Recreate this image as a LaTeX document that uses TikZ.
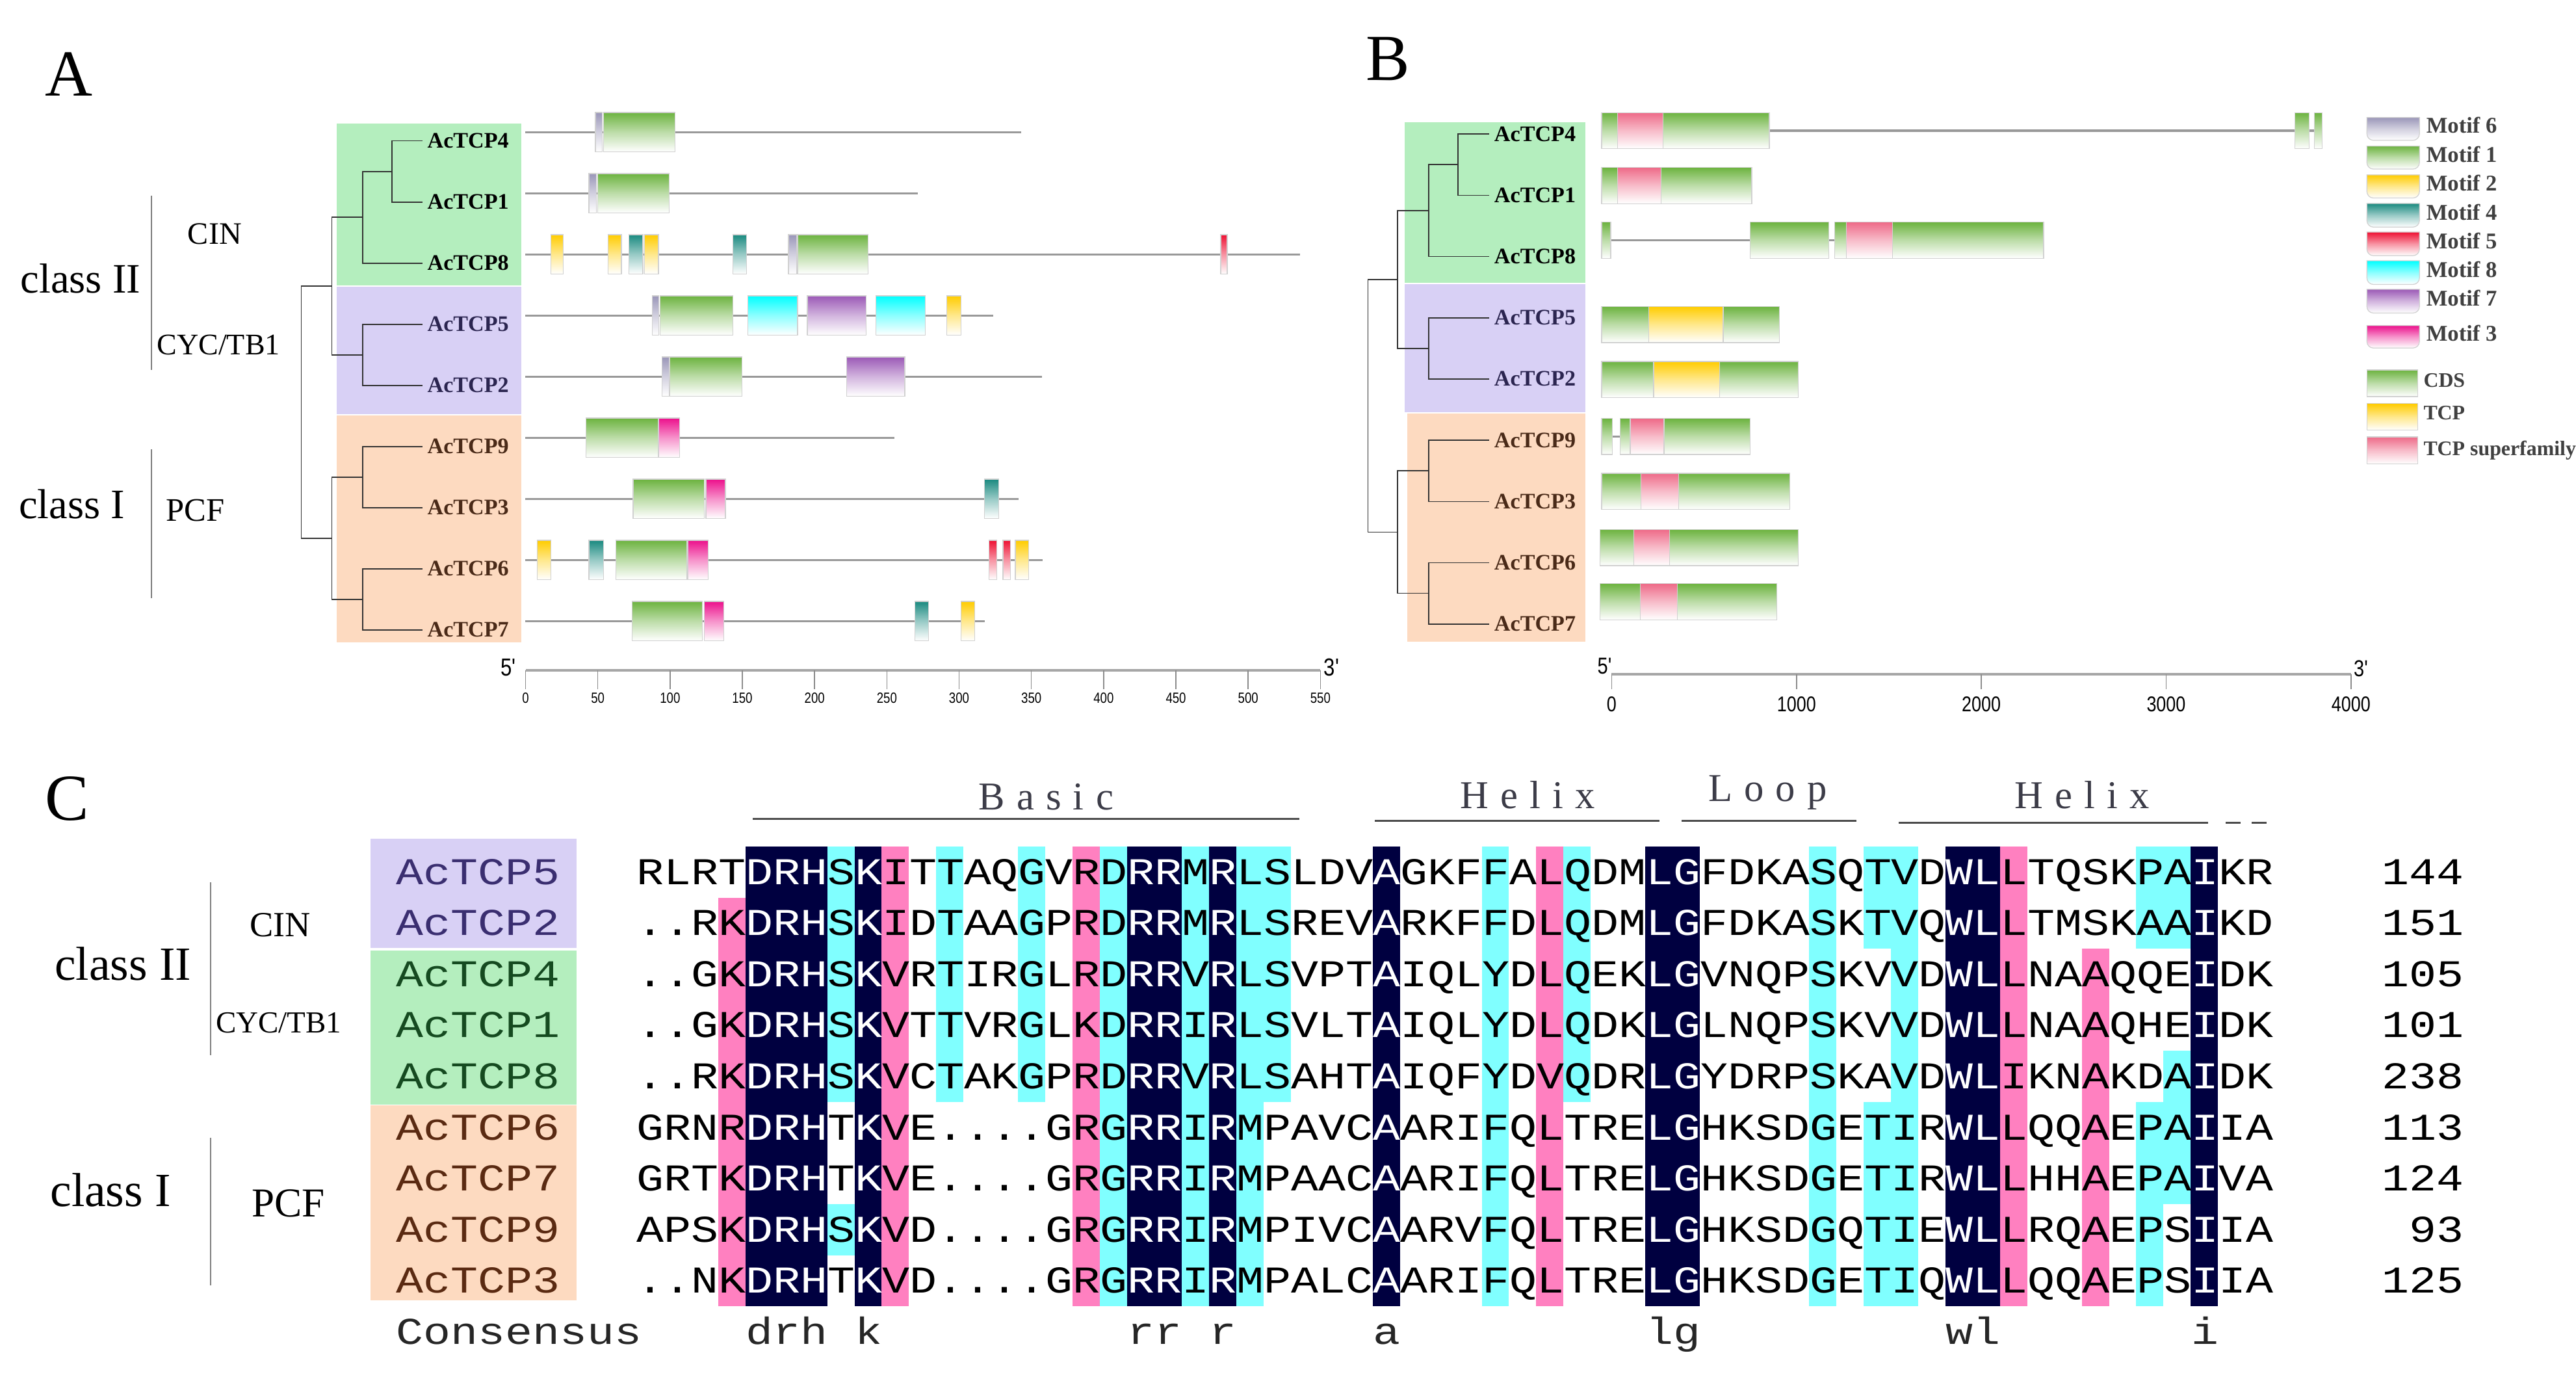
\documentclass[tikz,border=0pt]{standalone}
\usepackage{fontspec}
\setmainfont{Liberation Serif}
\newfontfamily\alnfont[FakeStretch=1.2]{Liberation Mono}
\newfontfamily\axfont[FakeStretch=0.82]{Liberation Sans}
\newcommand{\fsz}[1]{\fontsize{#1}{#1}\selectfont}
\newcommand{\W}[1]{\textcolor{white}{#1}}
\definecolor{bgG}{HTML}{B4EEBE}
\definecolor{bgP}{HTML}{D8D0F5}
\definecolor{bgO}{HTML}{FDDAC0}
\definecolor{mSix}{HTML}{9A96B8}
\definecolor{mOne}{HTML}{6CB33F}
\definecolor{mTwo}{HTML}{FFCC00}
\definecolor{mFour}{HTML}{1A8A80}
\definecolor{mFive}{HTML}{EE1133}
\definecolor{mEight}{HTML}{00FFFF}
\definecolor{mSeven}{HTML}{9B59B6}
\definecolor{mThree}{HTML}{EC108C}
\definecolor{tsf}{HTML}{EE6A88}
\definecolor{labP}{HTML}{2B2550}
\definecolor{labO}{HTML}{4A2A18}
\definecolor{cP}{HTML}{3A2E70}
\definecolor{cG}{HTML}{154A20}
\definecolor{cO}{HTML}{5A2A12}
\definecolor{alnD}{HTML}{000040}
\definecolor{alnC}{HTML}{80FFFF}
\definecolor{alnP}{HTML}{FF80C0}
\definecolor{hdr}{HTML}{3C3C48}
\newcommand{\gb}[5]{\draw[boxline,top color=#1,bottom color=white,middle color=#1!45] (#2,{#4-#5}) rectangle (#3,{#4+#5});}
\newcommand{\lsw}[3]{\draw[boxline,top color=#1,bottom color=white,middle color=#1!45] (1440.7,#2) -- (1472.7,#2) -- (1472.7,{#3-4}) arc[start angle=0,end angle=90,radius=4] -- (1444.7,#3) arc[start angle=90,end angle=180,radius=4] -- cycle;}
\newcommand{\abg}[5]{\fill[#1] ({387.3+16.6*#2},{515.1+31.1*#4}) rectangle ({387.3+16.6*(#3+1)},{515.1+31.1*(#5+1)});}
\tikzset{
  boxline/.style={draw=black!18,line width=0.5pt},
  geneln/.style={draw=black!40,line width=1.3pt},
  treeln/.style={draw=black!80,line width=0.7pt},
  tlab/.style={anchor=west,inner xsep=3pt,inner ysep=0pt,font=\bfseries\fsz{13.5}},
  clsline/.style={draw=black!50,line width=0.8pt},
  axln/.style={draw=black!35,line width=1.4pt},
  tickln/.style={draw=black!45,line width=0.6pt},
  seq/.style={anchor=west,inner sep=0pt,text height=15pt,text depth=0pt,font=\alnfont\fsz{23.06}},
  hdrt/.style={inner sep=0pt,text=hdr,font=\fsz{24}\addfontfeature{LetterSpace=30}},
  hdrln/.style={draw=black!70,line width=1.2pt},
  legt/.style={anchor=west,inner sep=0pt,text=black!75,font=\bfseries\fsz{13.7}},
}
\begin{document}
\begin{tikzpicture}[x=1pt,y=-1pt]
\useasboundingbox (0,0) rectangle (1568,839);
% ---------- panel labels
\node (lblA) at (42,45) {\fsz{40}A};
\node (lblB) at (845,36) {\fsz{40}B};
\node (lblC) at (41,486) {\fsz{40}C};
% ---------- panel A
\fill[bgG] (205,75) rectangle (317.5,173.5);
\fill[bgP] (205,174.5) rectangle (317.5,252);
\fill[bgO] (205,253) rectangle (317.5,391);
\node (aclsII) at (49,169.5) {\fsz{25.5}class II};
\node (aclsI) at (43.7,307) {\fsz{25.5}class I};
\draw[clsline] (92,119) -- (92,225);
\draw[clsline] (92,273.4) -- (92,364);
\node (aCIN) at (130.7,142.5) {\fsz{19}CIN};
\node (aCYC) at (133,209.8) {\fsz{18.2}CYC/TB1};
\node (aPCF) at (118.8,310.7) {\fsz{20}PCF};
% labels
\node[tlab] (a4) at (257,85.7) {AcTCP4};
\node[tlab] (a1) at (257,122.9) {AcTCP1};
\node[tlab] (a8) at (257,160.1) {AcTCP8};
\node[tlab,text=labP] (a5) at (257,197.3) {AcTCP5};
\node[tlab,text=labP] (a2) at (257,234.5) {AcTCP2};
\node[tlab,text=labO] (a9) at (257,271.7) {AcTCP9};
\node[tlab,text=labO] (a3) at (257,308.9) {AcTCP3};
\node[tlab,text=labO] (a6) at (257,346.1) {AcTCP6};
\node[tlab,text=labO] (a7) at (257,383.3) {AcTCP7};
\coordinate (pA41) at (238.6,104.3);
\coordinate (pA418) at (220.8,132.2);
\coordinate (pA52) at (220.8,215.9);
\coordinate (pAII) at (202,174);
\coordinate (pA93) at (220.8,290.3);
\coordinate (pA67) at (220.8,364.7);
\coordinate (pAI) at (202,327.5);
\coordinate (pAroot) at (183.4,250.8);
\draw[treeln] (pA41) |- (a4.west) (pA41) |- (a1.west);
\draw[treeln] (pA418) |- (pA41) (pA418) |- (a8.west);
\draw[treeln] (pA52) |- (a5.west) (pA52) |- (a2.west);
\draw[treeln] (pAII) |- (pA418) (pAII) |- (pA52);
\draw[treeln] (pA93) |- (a9.west) (pA93) |- (a3.west);
\draw[treeln] (pA67) |- (a6.west) (pA67) |- (a7.west);
\draw[treeln] (pAI) |- (pA93) (pAI) |- (pA67);
\draw[treeln] (pAroot) |- (pAII) (pAroot) |- (pAI);
% gene structures A
\draw[geneln] (319.8,80.4) -- (621.7,80.4);
\gb{mSix}{362.4}{366.7}{80.4}{12}
\gb{mOne}{367.3}{411.0}{80.4}{12}
\draw[geneln] (319.8,117.6) -- (558.6,117.6);
\gb{mSix}{358.5}{363.1}{117.6}{12}
\gb{mOne}{363.7}{407.4}{117.6}{12}
\draw[geneln] (319.8,154.8) -- (791.5,154.8);
\gb{mTwo}{335.2}{342.7}{154.8}{12}
\gb{mTwo}{370}{378.2}{154.8}{12}
\gb{mFour}{382.8}{391.3}{154.8}{12}
\gb{mTwo}{392.3}{400.8}{154.8}{12}
\gb{mFour}{446.1}{454.3}{154.8}{12}
\gb{mSix}{479.9}{484.8}{154.8}{12}
\gb{mOne}{485.5}{528.4}{154.8}{12}
\gb{mFive}{743}{747}{154.8}{12}
\draw[geneln] (319.8,192) -- (604.6,192);
\gb{mSix}{396.9}{401.1}{192}{12}
\gb{mOne}{401.8}{446.1}{192}{12}
\gb{mEight}{455.3}{485.5}{192}{12}
\gb{mSeven}{491.4}{527.1}{192}{12}
\gb{mEight}{533}{563.2}{192}{12}
\gb{mTwo}{576.3}{584.9}{192}{12}
\draw[geneln] (319.8,229.2) -- (634.1,229.2);
\gb{mSix}{403.1}{407.4}{229.2}{12}
\gb{mOne}{407.7}{451.7}{229.2}{12}
\gb{mSeven}{515.3}{550.8}{229.2}{12}
\draw[geneln] (319.8,266.4) -- (544.5,266.4);
\gb{mOne}{356.8}{400.5}{266.4}{12}
\gb{mThree}{401.1}{413.6}{266.4}{12}
\draw[geneln] (319.8,303.6) -- (620,303.6);
\gb{mOne}{385.4}{428.7}{303.6}{12}
\gb{mThree}{429.7}{441.5}{303.6}{12}
\gb{mFour}{599.3}{607.8}{303.6}{12}
\draw[geneln] (319.8,340.8) -- (634.8,340.8);
\gb{mTwo}{327}{335.2}{340.8}{12}
\gb{mFour}{358.5}{367.3}{340.8}{12}
\gb{mOne}{374.9}{418.2}{340.8}{12}
\gb{mThree}{418.9}{431}{340.8}{12}
\gb{mFive}{601.9}{606.8}{340.8}{12}
\gb{mFive}{610.5}{615.1}{340.8}{12}
\gb{mTwo}{618}{626}{340.8}{12}
\draw[geneln] (319.8,378) -- (599.3,378);
\gb{mOne}{384.7}{427.4}{378}{12}
\gb{mThree}{428.7}{440.5}{378}{12}
\gb{mFour}{557}{565.2}{378}{12}
\gb{mTwo}{584.9}{593.4}{378}{12}
% axis A
\draw[axln] (319.9,407.9) -- (803.7,407.9);
\foreach \v in {0,50,...,550}{
  \draw[tickln] ({319.9+0.8797*\v},407.9) -- ({319.9+0.8797*\v},419.2);
  \node[inner sep=0pt,font=\axfont\fsz{9}] (ta\v) at ({319.9+0.8797*\v},424.8) {\v};
}
\node[font=\axfont\fsz{15},inner sep=0pt] (a5p) at (309.3,406) {5'};
\node[font=\axfont\fsz{15},inner sep=0pt] (a3p) at (810.5,406) {3'};
% ---------- panel B
\fill[bgG] (855,74.5) rectangle (965,172.3);
\fill[bgP] (855,173) rectangle (965,250.9);
\fill[bgO] (856.5,251.5) rectangle (965,390.5);
\node[tlab] (b4) at (906.4,81.6) {AcTCP4};
\node[tlab] (b1) at (906.4,118.9) {AcTCP1};
\node[tlab] (b8) at (906.4,156.1) {AcTCP8};
\node[tlab,text=labP] (b5) at (906.4,193.4) {AcTCP5};
\node[tlab,text=labP] (b2) at (906.4,230.6) {AcTCP2};
\node[tlab,text=labO] (b9) at (906.4,267.9) {AcTCP9};
\node[tlab,text=labO] (b3) at (906.4,305.2) {AcTCP3};
\node[tlab,text=labO] (b6) at (906.4,342.4) {AcTCP6};
\node[tlab,text=labO] (b7) at (906.4,379.7) {AcTCP7};
\coordinate (pB41) at (887.5,100.2);
\coordinate (pB418) at (869.5,128.2);
\coordinate (pB52) at (869.5,212);
\coordinate (pBII) at (850.7,170.1);
\coordinate (pB93) at (869.5,286.5);
\coordinate (pB67) at (869.5,361);
\coordinate (pBI) at (850.7,323.8);
\coordinate (pBroot) at (832.7,247);
\draw[treeln] (pB41) |- (b4.west) (pB41) |- (b1.west);
\draw[treeln] (pB418) |- (pB41) (pB418) |- (b8.west);
\draw[treeln] (pB52) |- (b5.west) (pB52) |- (b2.west);
\draw[treeln] (pBII) |- (pB418) (pBII) |- (pB52);
\draw[treeln] (pB93) |- (b9.west) (pB93) |- (b3.west);
\draw[treeln] (pB67) |- (b6.west) (pB67) |- (b7.west);
\draw[treeln] (pBI) |- (pB93) (pBI) |- (pB67);
\draw[treeln] (pBroot) |- (pBII) (pBroot) |- (pBI);
% gene structures B
\draw[geneln] (974.9,79.5) -- (1413.4,79.5);
\gb{mOne}{974.9}{1077}{79.5}{11}
\gb{tsf}{984.7}{1012.3}{79.5}{11}
\gb{mOne}{1396.9}{1405.7}{79.5}{11}
\gb{mOne}{1408.8}{1413.4}{79.5}{11}
\gb{mOne}{974.9}{1066.3}{112.9}{11}
\gb{tsf}{984.7}{1011.2}{112.9}{11}
\draw[geneln] (974.9,146.2) -- (1243.9,146.2);
\gb{mOne}{974.9}{980.4}{146.2}{11}
\gb{mOne}{1065.4}{1113.3}{146.2}{11}
\gb{mOne}{1116.8}{1243.9}{146.2}{11}
\gb{tsf}{1124}{1151.9}{146.2}{11}
\gb{mOne}{974.9}{1083.1}{197.5}{11}
\gb{mTwo}{1003.6}{1048.9}{197.5}{11}
\gb{mOne}{974.9}{1094.7}{231}{11}
\gb{mTwo}{1006.5}{1046.6}{231}{11}
\draw[geneln] (974.9,265.6) -- (1065.4,265.6);
\gb{mOne}{974.9}{981.5}{265.6}{11}
\gb{mOne}{986.2}{1065.4}{265.6}{11}
\gb{tsf}{992.3}{1012.9}{265.6}{11}
\gb{mOne}{974.9}{1089.5}{299}{11}
\gb{tsf}{998.7}{1021.9}{299}{11}
\gb{mOne}{974}{1094.7}{333.2}{11}
\gb{tsf}{994.6}{1016.1}{333.2}{11}
\gb{mOne}{974}{1081.4}{366.2}{11}
\gb{tsf}{998.4}{1021}{366.2}{11}
% axis B
\draw[axln] (981,410.2) -- (1431,410.2);
\foreach \v in {0,1000,...,4000}{
  \draw[tickln] ({981+0.1125*\v},410.2) -- ({981+0.1125*\v},419.5);
  \node[inner sep=0pt,font=\axfont\fsz{13}] (tb\v) at ({981+0.1125*\v},428.7) {\v};
}
\node[font=\axfont\fsz{14},inner sep=0pt] (b5p) at (976.7,405.5) {5'};
\node[font=\axfont\fsz{14},inner sep=0pt] (b3p) at (1437,407) {3'};
% legend
\lsw{mSix}{71.5}{85.4}   \node[legt] (lm6) at (1476.7,76) {Motif 6};
\lsw{mOne}{88.9}{102.9}  \node[legt] (lm1) at (1476.7,93.9) {Motif 1};
\lsw{mTwo}{106.4}{120.5} \node[legt] (lm2) at (1476.7,111.4) {Motif 2};
\lsw{mFour}{123.8}{138.2} \node[legt] (lm4) at (1476.7,129.1) {Motif 4};
\lsw{mFive}{141.2}{155.6} \node[legt] (lm5) at (1476.7,146.5) {Motif 5};
\lsw{mEight}{158.7}{173.1} \node[legt] (lm8) at (1476.7,164) {Motif 8};
\lsw{mSeven}{176.1}{190.5} \node[legt] (lm7) at (1476.7,181.4) {Motif 7};
\lsw{mThree}{198.1}{211.8} \node[legt] (lm3) at (1476.7,202.6) {Motif 3};
\draw[boxline,top color=mOne,bottom color=white,middle color=mOne!45] (1440.7,225.1) rectangle (1471.5,241.3);
\node[legt,font=\bfseries\fsz{12.6}] (lcds) at (1475,231.4) {CDS};
\draw[boxline,top color=mTwo,bottom color=white,middle color=mTwo!45] (1440.7,245.6) rectangle (1471.5,261.8);
\node[legt,font=\bfseries\fsz{12.6}] (ltcp) at (1475,251.1) {TCP};
\draw[boxline,top color=tsf,bottom color=white,middle color=tsf!45] (1440.7,265.9) rectangle (1471.5,282.3);
\node[legt,font=\bfseries\fsz{12.6}] (ltsf) at (1475,273.9) {TCP superfamily};
% ---------- panel C
\fill[bgP] (225.7,510.4) rectangle (351,576.8);
\fill[bgG] (225.7,578.4) rectangle (351,672.1);
\fill[bgO] (225.7,672.6) rectangle (351,791.5);
\node (cclsII) at (74.8,586.7) {\fsz{29}class II};
\node (cclsI) at (67.3,724.3) {\fsz{29}class I};
\draw[clsline] (128,537) -- (128,642);
\draw[clsline] (128,692.3) -- (128,782.4);
\node (cCIN) at (170.6,563) {\fsz{21.5}CIN};
\node (cCYC) at (169.6,622.3) {\fsz{18.6}CYC/TB1};
\node (cPCF) at (175.5,732.2) {\fsz{25}PCF};
% header
\node[hdrt] (hBasic) at (636.7,484.8) {Basic};
\node[hdrt] (hHelixA) at (930,483.6) {Helix};
\node[hdrt] (hLoop) at (1076,482.4) {Loop};
\node[hdrt] (hHelixB) at (1267.3,483.6) {Helix};
\draw[hdrln] (458.3,498.3) -- (791.1,498.3);
\draw[hdrln] (837,499.7) -- (1010,499.7);
\draw[hdrln] (1023.5,499.7) -- (1130,499.7);
\draw[hdrln] (1155.6,500.6) -- (1344.2,500.6);
\draw[hdrln] (1354.9,500.6) -- (1363.8,500.6);
\draw[hdrln] (1370.6,500.6) -- (1379.7,500.6);
% alignment backgrounds
\foreach \cc/\ca/\cb/\ra/\rb in {alnD/4/6/0/8,alnD/8/8/0/8,alnD/18/19/0/8,alnD/21/21/0/8,alnD/27/27/0/8,alnD/37/38/0/8,alnD/48/49/0/8,alnD/57/57/0/8,
 alnP/3/3/1/8,alnP/9/9/0/8,alnP/16/16/0/8,alnP/33/33/0/8,alnP/50/50/0/8,alnP/53/53/2/8,
 alnC/7/7/0/4,alnC/7/7/7/7,alnC/11/11/0/4,alnC/14/14/0/4,alnC/17/17/0/8,alnC/20/20/0/8,alnC/22/22/0/8,alnC/23/23/0/4,alnC/31/31/0/8,alnC/34/34/0/4,alnC/43/43/0/8,alnC/45/45/0/1,alnC/45/45/5/8,alnC/46/46/0/8,alnC/55/55/0/1,alnC/55/55/5/8,alnC/56/56/0/1,alnC/56/56/4/6}{
  \abg{\cc}{\ca}{\cb}{\ra}{\rb}
}
% names
\node[seq,text=cP] (c5) at (241,530.65) {AcTCP5};
\node[seq,text=cP] (c2) at (241,561.75) {AcTCP2};
\node[seq,text=cG] (c4) at (241,592.85) {AcTCP4};
\node[seq,text=cG] (c1) at (241,623.95) {AcTCP1};
\node[seq,text=cG] (c8) at (241,655.05) {AcTCP8};
\node[seq,text=cO] (c6) at (241,686.15) {AcTCP6};
\node[seq,text=cO] (c7) at (241,717.25) {AcTCP7};
\node[seq,text=cO] (c9) at (241,748.35) {AcTCP9};
\node[seq,text=cO] (c3) at (241,779.45) {AcTCP3};
\node[seq,text=black!85] (ccons) at (241,810.55) {Consensus};
% sequences
\node[seq] (s5) at (387.3,530.65) {RLRT\W{DRH}S\W{K}ITTAQGVRD\W{RR}M\W{R}LSLDV\W{A}GKFFALQDM\W{LG}FDKASQTVD\W{WL}LTQSKPA\W{I}KR};
\node[seq] (s2) at (387.3,561.75) {..RK\W{DRH}S\W{K}IDTAAGPRD\W{RR}M\W{R}LSREV\W{A}RKFFDLQDM\W{LG}FDKASKTVQ\W{WL}LTMSKAA\W{I}KD};
\node[seq] (s4) at (387.3,592.85) {..GK\W{DRH}S\W{K}VRTIRGLRD\W{RR}V\W{R}LSVPT\W{A}IQLYDLQEK\W{LG}VNQPSKVVD\W{WL}LNAAQQE\W{I}DK};
\node[seq] (s1) at (387.3,623.95) {..GK\W{DRH}S\W{K}VTTVRGLKD\W{RR}I\W{R}LSVLT\W{A}IQLYDLQDK\W{LG}LNQPSKVVD\W{WL}LNAAQHE\W{I}DK};
\node[seq] (s8) at (387.3,655.05) {..RK\W{DRH}S\W{K}VCTAKGPRD\W{RR}V\W{R}LSAHT\W{A}IQFYDVQDR\W{LG}YDRPSKAVD\W{WL}IKNAKDA\W{I}DK};
\node[seq] (s6) at (387.3,686.15) {GRNR\W{DRH}T\W{K}VE....GRG\W{RR}I\W{R}MPAVC\W{A}ARIFQLTRE\W{LG}HKSDGETIR\W{WL}LQQAEPA\W{I}IA};
\node[seq] (s7) at (387.3,717.25) {GRTK\W{DRH}T\W{K}VE....GRG\W{RR}I\W{R}MPAAC\W{A}ARIFQLTRE\W{LG}HKSDGETIR\W{WL}LHHAEPA\W{I}VA};
\node[seq] (s9) at (387.3,748.35) {APSK\W{DRH}S\W{K}VD....GRG\W{RR}I\W{R}MPIVC\W{A}ARVFQLTRE\W{LG}HKSDGQTIE\W{WL}LRQAEPS\W{I}IA};
\node[seq] (s3) at (387.3,779.45) {..NK\W{DRH}T\W{K}VD....GRG\W{RR}I\W{R}MPALC\W{A}ARIFQLTRE\W{LG}HKSDGETIQ\W{WL}LQQAEPS\W{I}IA};
\node[seq,text=black!85] (scons) at (387.3,810.55) {\hphantom{XXXX}drh\hphantom{X}k\hphantom{XXXXXXXXX}rr\hphantom{X}r\hphantom{XXXXX}a\hphantom{XXXXXXXXX}lg\hphantom{XXXXXXXXX}wl\hphantom{XXXXXXX}i};
% lengths
\node[seq,anchor=east] (n5) at (1500,530.65) {144};
\node[seq,anchor=east] (n2) at (1500,561.75) {151};
\node[seq,anchor=east] (n4) at (1500,592.85) {105};
\node[seq,anchor=east] (n1) at (1500,623.95) {101};
\node[seq,anchor=east] (n8) at (1500,655.05) {238};
\node[seq,anchor=east] (n6) at (1500,686.15) {113};
\node[seq,anchor=east] (n7) at (1500,717.25) {124};
\node[seq,anchor=east] (n9) at (1500,748.35) {93};
\node[seq,anchor=east] (n3) at (1500,779.45) {125};
\end{tikzpicture}
\end{document}
